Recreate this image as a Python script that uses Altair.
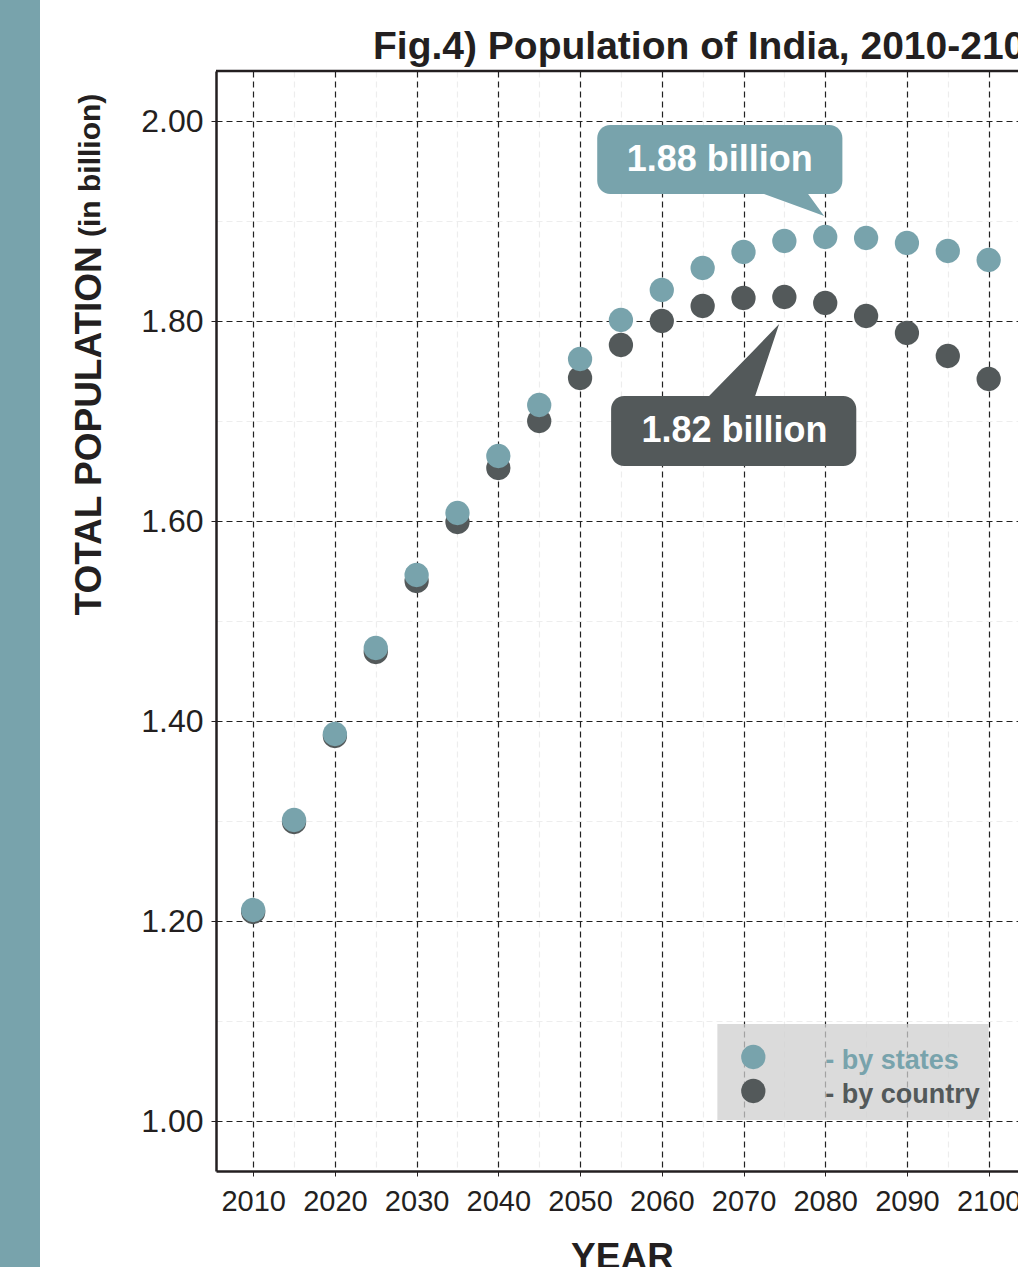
import altair as alt
import pandas as pd

# ---------------- data ----------------
years = list(range(2010, 2101, 5))
by_states = [1.211, 1.301, 1.387, 1.473, 1.546, 1.608, 1.665, 1.716, 1.762, 1.801,
             1.831, 1.853, 1.869, 1.880, 1.884, 1.883, 1.878, 1.870, 1.861]
by_country = [1.209, 1.299, 1.385, 1.469, 1.540, 1.599, 1.653, 1.700, 1.743, 1.776,
              1.800, 1.815, 1.823, 1.824, 1.818, 1.805, 1.788, 1.765, 1.742]
series_names = ["- by states", "- by country"]
callout_labels = ["1.88 billion", "1.82 billion"]
title_text = "Fig.4) Population of India, 2010-2100"
y_title = "TOTAL POPULATION"
y_subtitle = "(in billion)"
x_title = "YEAR"
y_ticks = [round(1.0 + 0.1 * i, 1) for i in range(11)]

# ---------------- style ----------------
TEAL = "#78A3AC"
DARK = "#53595A"
INK = "#231F20"
FONT = "Liberation Sans"
W, H = 802, 1100

XS = alt.Scale(domain=[2005.45, 2103.59], nice=False, zero=False)
YS = alt.Scale(domain=[0.95, 2.05], nice=False, zero=False)

X_AXIS = alt.Axis(
    values=years, format="d",
    labelExpr="datum.value % 10 === 0 ? datum.label : ''",
    labelFont=FONT, labelFontSize=29, labelColor=INK, labelPadding=11,
    labelOverlap=False, labelFlush=False,
    tickSize=5,
    tickColor={"condition": {"test": "datum.value % 10 === 0", "value": INK}, "value": "transparent"},
    domainColor=INK, domainWidth=2.5,
    gridColor={"condition": {"test": "datum.value % 10 === 0", "value": "#222222"}, "value": "#EDEDED"},
    gridDash=[6, 4], gridWidth=1.2,
    title=x_title, titleFont=FONT, titleFontSize=37, titleFontWeight="bold", titleColor=INK,
    titleX=406, titleY=97, titleAlign="center", titleBaseline="alphabetic", titleAngle=0,
)
Y_AXIS = alt.Axis(
    values=y_ticks,
    labelExpr="round(datum.value * 10) % 2 === 0 ? format(datum.value, '.2f') : ''",
    labelFont=FONT, labelFontSize=32, labelColor=INK, labelPadding=8,
    labelOverlap=False, labelFlush=False,
    tickSize=5,
    tickColor={"condition": {"test": "round(datum.value * 10) % 2 === 0", "value": INK}, "value": "transparent"},
    domainColor=INK, domainWidth=2.5,
    gridColor={"condition": {"test": "round(datum.value * 10) % 2 === 0", "value": "#222222"}, "value": "#EDEDED"},
    gridDash=[6, 4], gridWidth=1.2,
    title=y_title, titleFont=FONT, titleFontSize=37, titleFontWeight="bold", titleColor=INK,
    titleX=-116, titleY=544, titleAngle=270, titleAlign="left", titleBaseline="alphabetic",
)


def xenc(field):
    return alt.X(field, type="quantitative", scale=XS, axis=X_AXIS)


def yenc(field):
    return alt.Y(field, type="quantitative", scale=YS, axis=Y_AXIS)


df_country = pd.DataFrame({"year": years, "value": by_country})
df_states = pd.DataFrame({"year": years, "value": by_states})

pts_country = alt.Chart(df_country).mark_circle(size=590, opacity=1, color=DARK).encode(
    x=xenc("year"), y=yenc("value"))
pts_states = alt.Chart(df_states).mark_circle(size=590, opacity=1, color=TEAL).encode(
    x=xenc("year"), y=yenc("value"))

# ---------------- legend (drawn with data scales) ----------------
leg_box = alt.Chart(pd.DataFrame({"x": [2066.8], "x2": [2100.0], "y": [1.097], "y2": [1.001]})).mark_rect(
    color="#CFCFCF", opacity=0.75).encode(x=xenc("x"), x2="x2", y=yenc("y"), y2="y2")
leg_df = pd.DataFrame({"name": series_names, "px": [2071.2, 2071.2], "py": [1.064, 1.030],
                       "tx": [2080.0, 2080.0], "ty": [1.052, 1.018], "c": [TEAL, DARK]})
leg_pts = alt.Chart(leg_df).mark_circle(size=590, opacity=1).encode(
    x=xenc("px"), y=yenc("py"), color=alt.Color("c:N", scale=None))
leg_txt = alt.Chart(leg_df).mark_text(align="left", baseline="alphabetic", font=FONT,
                                      fontSize=27, fontWeight="bold").encode(
    x=xenc("tx"), y=yenc("ty"), text="name:N", color=alt.Color("c:N", scale=None))

# ---------------- callouts ----------------
box_df = pd.DataFrame({"x": [2052.1, 2053.8], "x2": [2082.1, 2083.8],
                       "y": [1.996, 1.725], "y2": [1.927, 1.655], "c": [TEAL, DARK]})
boxes = alt.Chart(box_df).mark_rect(cornerRadius=13).encode(
    x=xenc("x"), x2="x2", y=yenc("y"), y2="y2", color=alt.Color("c:N", scale=None))

ptr_teal = alt.Chart(pd.DataFrame({"x": [2071.2, 2077.55, 2079.87],
                                   "y": [1.931, 1.931, 1.905],
                                   "y2": [1.931, 1.912, 1.905]})).mark_area(color=TEAL).encode(
    x=xenc("x"), y=yenc("y"), y2="y2")
ptr_dark = alt.Chart(pd.DataFrame({"x": [2065.07, 2071.18, 2074.36],
                                   "y": [1.719, 1.770, 1.797],
                                   "y2": [1.719, 1.719, 1.797]})).mark_area(color=DARK).encode(
    x=xenc("x"), y=yenc("y"), y2="y2")

lab_df = pd.DataFrame({"t": callout_labels, "x": [2067.1, 2068.9], "y": [1.961, 1.690]})
labels = alt.Chart(lab_df).mark_text(font=FONT, fontSize=36, fontWeight="bold", color="white",
                                     align="center", baseline="middle").encode(
    x=xenc("x"), y=yenc("y"), text="t:N")

# ---------------- frame pieces / texts ----------------
one = pd.DataFrame({"t": [title_text]})
left_bar = alt.Chart(one).mark_rect(color=TEAL).encode(
    x=alt.value(-216), x2=alt.value(-176), y=alt.value(-71), y2=alt.value(1196))
top_rule = alt.Chart(one).mark_rule(color=INK, strokeWidth=2.5).encode(
    x=alt.value(0), x2=alt.value(W), y=alt.value(0))
title = alt.Chart(one).mark_text(font=FONT, fontSize=39, fontWeight="bold", color=INK,
                                 align="left", baseline="alphabetic").encode(
    x=alt.value(157), y=alt.value(-12), text="t:N")
sub = alt.Chart(pd.DataFrame({"t": [y_subtitle]})).mark_text(
    font=FONT, fontSize=30, fontWeight="bold", color=INK, angle=270,
    align="left", baseline="alphabetic").encode(
    x=alt.value(-116), y=alt.value(166), text="t:N")

chart = alt.layer(
    leg_box, pts_country, pts_states, leg_pts, leg_txt,
    ptr_teal, ptr_dark, boxes, labels,
    left_bar, top_rule, title, sub,
).properties(
    width=W, height=H,
    autosize=alt.AutoSizeParams(type="none"),
    padding={"left": 216, "top": 71, "right": 0, "bottom": 96},
    background="white",
).configure_view(stroke=None)

chart.save("out.html", embed_options={"renderer": "svg", "actions": False})
